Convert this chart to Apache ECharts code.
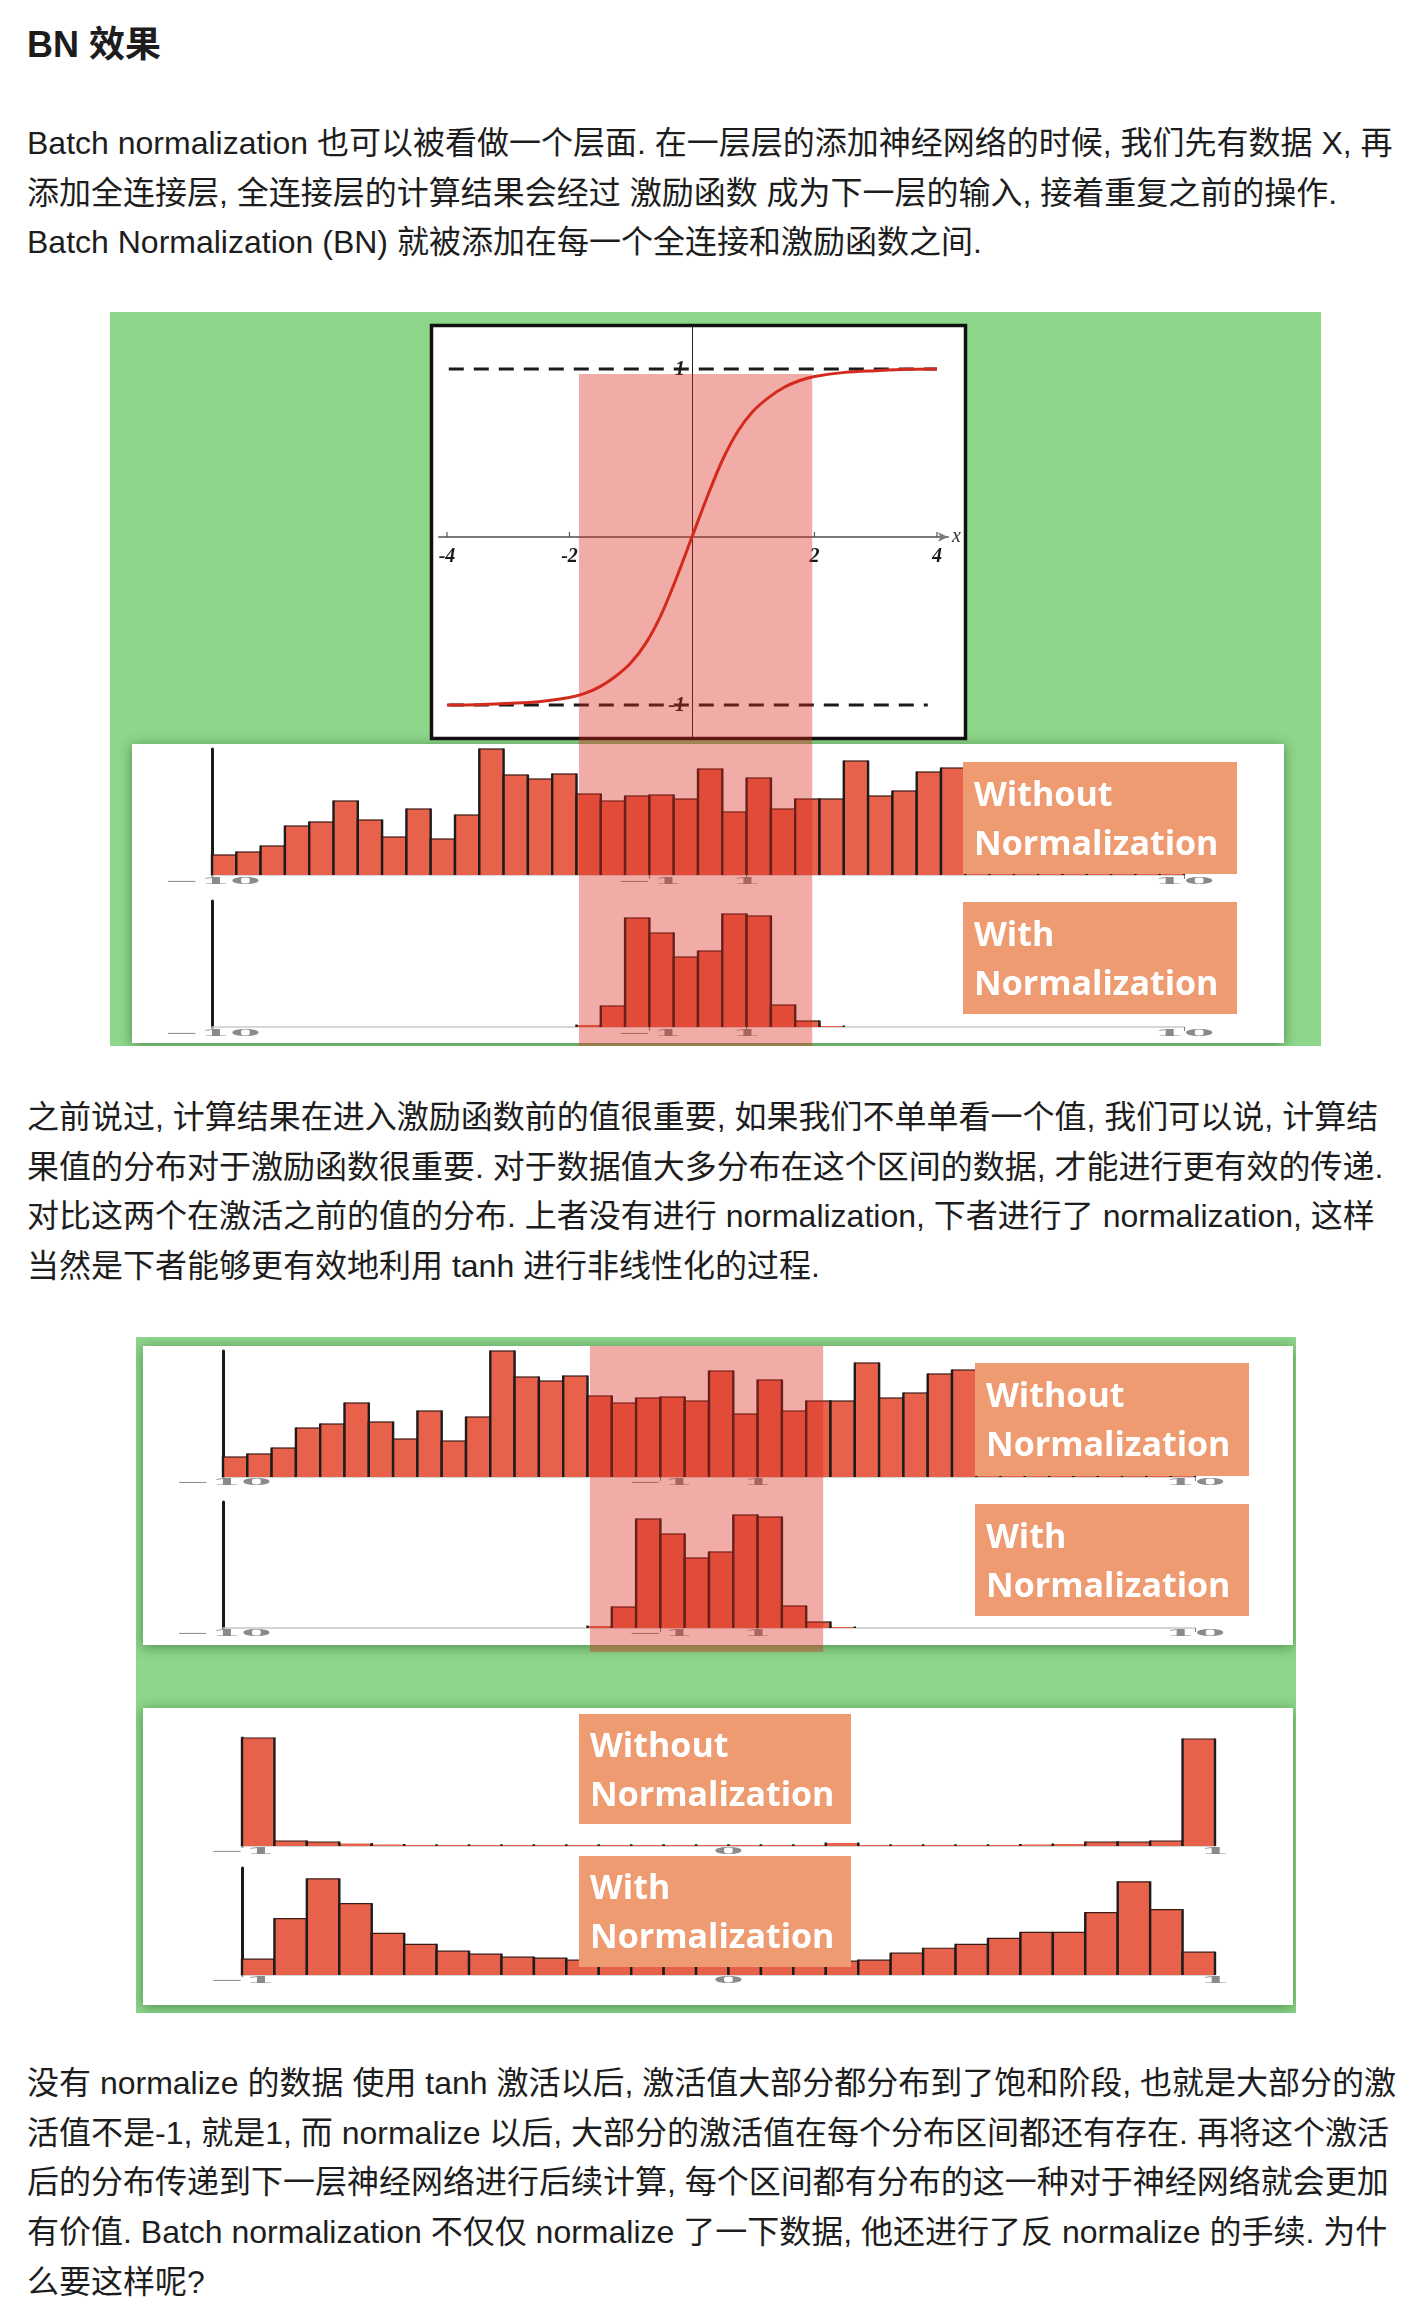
<!DOCTYPE html>
<html><head><meta charset="utf-8">
<script src="https://cdn.jsdelivr.net/npm/echarts@6/dist/echarts.min.js"></script>
<style>
html,body{margin:0;padding:0;background:#fff;width:1410px;height:2318px;overflow:hidden;}
.t{position:absolute;left:27px;white-space:nowrap;font-family:"Liberation Sans","Noto Sans CJK SC",sans-serif;font-size:32px;line-height:49.7px;color:#1d1d1d;}
.h{position:absolute;left:27px;top:20px;margin:0;white-space:nowrap;font-family:"Liberation Sans","Noto Sans CJK SC",sans-serif;font-size:36px;line-height:50px;font-weight:bold;color:#1d1d1d;}
#fig1{position:absolute;left:110px;top:312px;width:1211px;height:734px;}
#fig2{position:absolute;left:136px;top:1337px;width:1160px;height:676px;}
</style></head>
<body>
<div class="h">BN 效果</div>
<div class="t" style="top:119px">Batch normalization 也可以被看做一个层面. 在一层层的添加神经网络的时候, 我们先有数据 X, 再<br>添加全连接层, 全连接层的计算结果会经过 激励函数 成为下一层的输入, 接着重复之前的操作.<br>Batch Normalization (BN) 就被添加在每一个全连接和激励函数之间.</div>
<div id="fig1"></div>
<div class="t" style="top:1093px">之前说过, 计算结果在进入激励函数前的值很重要, 如果我们不单单看一个值, 我们可以说, 计算结<br>果值的分布对于激励函数很重要. 对于数据值大多分布在这个区间的数据, 才能进行更有效的传递.<br>对比这两个在激活之前的值的分布. 上者没有进行 normalization, 下者进行了 normalization, 这样<br>当然是下者能够更有效地利用 tanh 进行非线性化的过程.</div>
<div id="fig2"></div>
<div class="t" style="top:2059px">没有 normalize 的数据 使用 tanh 激活以后, 激活值大部分都分布到了饱和阶段, 也就是大部分的激<br>活值不是-1, 就是1, 而 normalize 以后, 大部分的激活值在每个分布区间都还有存在. 再将这个激活<br>后的分布传递到下一层神经网络进行后续计算, 每个区间都有分布的这一种对于神经网络就会更加<br>有价值. Batch normalization 不仅仅 normalize 了一下数据, 他还进行了反 normalize 的手续. 为什<br>么要这样呢?</div>
<script>
// ---------------- data ----------------
// tanh curve
const curveX = [-4,-3.5,-3,-2.5,-2,-1.75,-1.5,-1.25,-1,-0.75,-0.5,-0.25,0,0.25,0.5,0.75,1,1.25,1.5,1.75,2,2.5,3,3.5,4];
const curveY = [-1,-0.998,-0.99,-0.98,-0.955,-0.93,-0.89,-0.83,-0.75,-0.63,-0.46,-0.24,0,0.24,0.46,0.63,0.75,0.83,0.89,0.93,0.955,0.98,0.99,0.998,1];
const tanhAxisTicks = [-4,-2,2,4];
const tanhAxisTickLabels = ['-4','-2','2','4'];
const tanhAxisYValues = [-1,1];
const tanhAxisYLabels = ['-1','1'];
const asymptoteTop = [[-3.97,1],[4.0,1]];
const asymptoteBottom = [[-3.97,-1],[3.85,-1]];

// pre-activation histograms (bins of 0.5 from -10 to 10)
const histBinStart = [-10,-9.5,-9,-8.5,-8,-7.5,-7,-6.5,-6,-5.5,-5,-4.5,-4,-3.5,-3,-2.5,-2,-1.5,-1,-0.5,0,0.5,1,1.5,2,2.5,3,3.5,4,4.5,5,5.5,6,6.5,7,7.5,8,8.5,9,9.5];
const histBinWidth = 0.5;
const countsWithoutBN = [20,23,29,49,53,74,55,38,66,36,60,126,100,96,101,81,74,79,80,76,106,63,97,66,76,76,114,79,84,103,107,100,95,104,90,98,93,88,99,91];
const countsWithBN = [0,0,0,0,0,0,0,0,0,0,0,0,0,0,0,2,21,109,94,70,76,113,111,22,6,1,0,0,0,0,0,0,0,0,0,0,0,0,0,0];
const histTickValues = [-10,-1,1,10];
const histTickLabels = ['\u221210','\u22121','1','10'];
const histTopTicks = [-1,1,10];

// tanh-output histograms (30 bins from -1 to 1)
const tanhBinStart = [-1,-0.9333,-0.8667,-0.8,-0.7333,-0.6667,-0.6,-0.5333,-0.4667,-0.4,-0.3333,-0.2667,-0.2,-0.1333,-0.0667,0,0.0667,0.1333,0.2,0.2667,0.3333,0.4,0.4667,0.5333,0.6,0.6667,0.7333,0.8,0.8667,0.9333];
const tanhBinWidth = 0.0667;
const actWithoutBN = [108,5,4,2.5,1.5,1,1,1,1,1,1,1,1,1,1,1,1,1,3,1,1,1,1,1,1.5,2,4,4,5,107];
const actWithBN = [16,57,97,72,42,31,24,21,18,17,15,14,14,13,13,13,13,14,14,15,22,27,31,37,43,43,63,94,66,23];
const tanhTickValues = [-1,0,1];
const tanhTickLabels = ['\u22121','0','1'];

const bandRange = [-2.45, 2.35];
const bandTopValue = 0.97;
const labelWithout = ['Without','Normalization'];
const labelWith = ['With','Normalization'];

// ---------------- styles ----------------
const GREEN = '#8dd68a';
const BAR = '#e8614a';
const BAR_EDGE = '#1c1c1c';
const BOX = '#ee9b71';
const BAND = 'rgba(220,42,30,0.39)';
const SERIF = '"Liberation Serif", "DejaVu Serif", serif';

function barSeries(xi, yi, starts, width, counts){
  return {type:'custom', xAxisIndex:xi, yAxisIndex:yi, clip:false, z:3, silent:true,
    data: starts.map((s,i)=>[s, s+width, counts[i]]),
    encode:{x:[0,1], y:2},
    renderItem(params, api){
      const v = api.value(2); if(!(v>0)) return null;
      const a = api.coord([api.value(0), v]); const b = api.coord([api.value(1), 0]);
      const x0=a[0], x1=b[0], yt=a[1], yb=b[1];
      const kids = [
        {type:'rect', shape:{x:x0, y:yt, width:x1-x0, height:yb-yt}, style:{fill:BAR}},
        {type:'line', shape:{x1:x0, y1:yb, x2:x0, y2:yt-0.5}, style:{stroke:BAR_EDGE, lineWidth:2.4}},
        {type:'line', shape:{x1:x1, y1:yb, x2:x1, y2:yt-0.5}, style:{stroke:BAR_EDGE, lineWidth:2.4}}
      ];
      if (yb-yt > 3) kids.push({type:'line', shape:{x1:x0, y1:yt, x2:x1, y2:yt}, style:{stroke:'#3a1a14', lineWidth:1.2}});
      return {type:'group', children:kids};
    }};
}
function tickLabelSeries(xi, yi, values, labels, dy){
  return {type:'custom', xAxisIndex:xi, yAxisIndex:yi, clip:false, z:4, silent:true,
    data: values.map(v=>[v,0]),
    encode:{x:0, y:1},
    renderItem(params, api){
      const p = api.coord([api.value(0), 0]);
      return {type:'text', x:p[0], y:p[1]+dy, scaleX:2.9, scaleY:0.6,
        style:{text:labels[params.dataIndex], fill:'#8a8a8a', font:'bold 15px "DejaVu Serif"', align:'center', verticalAlign:'middle'}};
    }};
}
function histX(grid, min, max){
  return {gridIndex:grid, type:'value', min, max,
    axisLine:{show:true, onZero:false, lineStyle:{color:'#c9c9c9', width:1.5}},
    axisTick:{show:false}, axisLabel:{show:false}, splitLine:{show:false}};
}
function histXTop(grid, min, max, ticks){
  return {gridIndex:grid, type:'value', position:'top', min, max,
    axisLine:{show:false},
    axisTick:{show:true, inside:true, length:4, customValues:ticks, lineStyle:{color:'#777', width:1}},
    axisLabel:{show:false}, splitLine:{show:false}};
}
function histY(grid, max){
  return {gridIndex:grid, type:'value', min:0, max,
    axisLine:{show:true, onZero:false, lineStyle:{color:'#1a1a1a', width:3}},
    axisTick:{show:false}, axisLabel:{show:false}, splitLine:{show:false}};
}
function g(left, top, width, height){ return {left, top, width, height, containLabel:false, outerBoundsMode:'none'}; }
function panel(id, x, y, w, h, z){
  return {id, type:'rect', z: z, shape:{x, y, width:w, height:h},
    style:{fill:'#fff', shadowBlur:12, shadowColor:'rgba(0,50,0,0.45)', shadowOffsetY:2}};
}
function labelBox(id, x, y, w, h, lines, d1, d2){
  const f = 'bold 34px "Open Sans"';
  return [
    {id:id+'r', type:'rect', z:10, shape:{x, y, width:w, height:h}, style:{fill:BOX}},
    {id:id+'t1', type:'text', z:11, x:x+11, y:y+d1, style:{text:lines[0], fill:'#fff', font:f, verticalAlign:'middle'}},
    {id:id+'t2', type:'text', z:11, x:x+11, y:y+d2, style:{text:lines[1], fill:'#fff', font:f, verticalAlign:'middle'}}
  ];
}

// ---------------- figure 1 ----------------
const c1 = echarts.init(document.getElementById('fig1'), null, {renderer:'canvas'});
c1.setOption({
  animation:false,
  backgroundColor: GREEN,
  grid:[ g(329,15,509,410), g(102,437,972,126), g(102,589,972,126) ],
  xAxis:[
    {gridIndex:0, type:'value', min:-4.13, max:4.18,
      axisLine:{show:true, onZero:true, symbol:['none','arrow'], symbolSize:[7,10], lineStyle:{color:'#7a7a7a', width:2}},
      axisTick:{show:false}, axisLabel:{show:false}, splitLine:{show:false},
      name:'x', nameLocation:'end', nameGap:4, nameTextStyle:{fontFamily:SERIF, fontStyle:'italic', fontSize:20, color:'#333'}},
    histX(1,-10,10), histXTop(1,-10,10,histTopTicks),
    histX(2,-10,10), histXTop(2,-10,10,histTopTicks)
  ],
  yAxis:[
    {gridIndex:0, type:'value', min:-1.19, max:1.25,
      axisLine:{show:true, onZero:true, lineStyle:{color:'#222', width:1}},
      axisTick:{show:false}, axisLabel:{show:false}, splitLine:{show:false}},
    histY(1,126), histY(2,126)
  ],
  series:[
    {type:'line', xAxisIndex:0, yAxisIndex:0, data:asymptoteTop, symbol:'none', z:2, silent:true,
      lineStyle:{color:'#1a1a1a', width:3, type:[15,10]}},
    {type:'line', xAxisIndex:0, yAxisIndex:0, data:asymptoteBottom, symbol:'none', z:2, silent:true,
      lineStyle:{color:'#1a1a1a', width:3, type:[15,10]}},
    {type:'line', xAxisIndex:0, yAxisIndex:0, data:curveX.map((x,i)=>[x,curveY[i]]), symbol:'none', smooth:0.3, z:3, silent:true,
      lineStyle:{color:'#d22a1c', width:3}},
    // x-axis ticks and labels of the tanh plot (axis crosses at y = 0)
    {type:'custom', xAxisIndex:0, yAxisIndex:0, clip:false, z:4, silent:true,
      data: tanhAxisTicks.map(v=>[v,0]), encode:{x:0,y:1},
      renderItem(params, api){
        const p = api.coord([api.value(0), 0]);
        return {type:'group', children:[
          {type:'line', shape:{x1:p[0], y1:p[1], x2:p[0], y2:p[1]-5}, style:{stroke:'#555', lineWidth:1.2}},
          {type:'text', x:p[0], y:p[1]+20, style:{text:tanhAxisTickLabels[params.dataIndex], fill:'#1a1a1a',
            font:'italic bold 20px "Liberation Serif"', align:'center', verticalAlign:'middle'}}
        ]};
      }},
    // y labels of the tanh plot (axis crosses at x = 0)
    {type:'custom', xAxisIndex:0, yAxisIndex:0, clip:false, z:4, silent:true,
      data: tanhAxisYValues.map(v=>[0,v]), encode:{x:0,y:1},
      renderItem(params, api){
        const p = api.coord([0, api.value(1)]);
        return {type:'text', x:p[0]-7, y:p[1]+1, style:{text:tanhAxisYLabels[params.dataIndex], fill:'#1a1a1a',
          font:'italic bold 20px "Liberation Serif"', align:'right', verticalAlign:'middle'}};
      }},
    barSeries(1,1,histBinStart,histBinWidth,countsWithoutBN),
    tickLabelSeries(1,1,histTickValues,histTickLabels,7),
    barSeries(3,2,histBinStart,histBinWidth,countsWithBN),
    tickLabelSeries(3,2,histTickValues,histTickLabels,7)
  ]
});
{
  const x0 = c1.convertToPixel({xAxisIndex:1}, bandRange[0]);
  const x1 = c1.convertToPixel({xAxisIndex:1}, bandRange[1]);
  const yTop = c1.convertToPixel({yAxisIndex:0}, bandTopValue);
  const els = [
    panel('p1', 22, 432, 1152, 299, -2),
    {id:'tbox', type:'rect', z:-1, shape:{x:321.5, y:13.5, width:534, height:413}, style:{fill:'#fff', stroke:'#111', lineWidth:3.5}},
    ...labelBox('b1', 853, 450, 274, 112, labelWithout, 34, 83),
    ...labelBox('b2', 853, 590, 274, 112, labelWith, 34, 83),
    {id:'band', type:'rect', z:20, shape:{x:x0, y:yTop, width:x1-x0, height:734-yTop}, style:{fill:BAND}}
  ];
  c1.setOption({graphic:{elements:els}});
}

// ---------------- figure 2 ----------------
const c2 = echarts.init(document.getElementById('fig2'), null, {renderer:'canvas'});
c2.setOption({
  animation:false,
  backgroundColor: GREEN,
  grid:[ g(87,14,972,126), g(87,165,972,126), g(106,401,973,108), g(106,531,973,107) ],
  xAxis:[
    histX(0,-10,10), histXTop(0,-10,10,histTopTicks),
    histX(1,-10,10), histXTop(1,-10,10,histTopTicks),
    histX(2,-1,1), histX(3,-1,1)
  ],
  yAxis:[ histY(0,126), histY(1,126), histY(2,108), histY(3,108) ],
  series:[
    barSeries(0,0,histBinStart,histBinWidth,countsWithoutBN),
    tickLabelSeries(0,0,histTickValues,histTickLabels,6),
    barSeries(2,1,histBinStart,histBinWidth,countsWithBN),
    tickLabelSeries(2,1,histTickValues,histTickLabels,6),
    barSeries(4,2,tanhBinStart,tanhBinWidth,actWithoutBN),
    tickLabelSeries(4,2,tanhTickValues,tanhTickLabels,6),
    barSeries(5,3,tanhBinStart,tanhBinWidth,actWithBN),
    tickLabelSeries(5,3,tanhTickValues,tanhTickLabels,6)
  ]
});
{
  const x0 = c2.convertToPixel({xAxisIndex:0}, bandRange[0]);
  const x1 = c2.convertToPixel({xAxisIndex:0}, bandRange[1]);
  const els = [
    panel('p1', 7, 9, 1150, 299, -2),
    panel('p2', 7, 371, 1150, 297, -2),
    ...labelBox('b1', 839, 26, 274, 113, labelWithout, 34, 83),
    ...labelBox('b2', 839, 167, 274, 112, labelWith, 34, 83),
    ...labelBox('b3', 443, 377, 272, 110, labelWithout, 33, 82),
    ...labelBox('b4', 443, 519, 272, 111, labelWith, 33, 82),
    {id:'band', type:'rect', z:20, shape:{x:x0, y:9, width:x1-x0, height:306}, style:{fill:BAND}}
  ];
  c2.setOption({graphic:{elements:els}});
}
</script>
</body></html>
